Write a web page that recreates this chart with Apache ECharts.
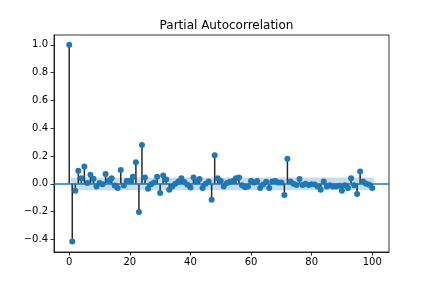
<!DOCTYPE html>
<html>
<head>
<meta charset="utf-8">
<script src="https://cdn.jsdelivr.net/npm/echarts@6/dist/echarts.min.js"></script>
<style>html,body{margin:0;padding:0;background:#fff}#c{width:432px;height:288px}</style>
</head>
<body>
<div id="c"></div>
<script>
const titleText = 'Partial Autocorrelation';
const lags = Array.from({length: 101}, (_, i) => i);
const pacfValues = [
  1.0, -0.415, -0.05, 0.093, 0.04, 0.125, 0.005, 0.065, 0.036, -0.02,
  0.005, -0.003, 0.07, 0.024, 0.04, -0.012, -0.03, 0.10, -0.012, 0.02,
  0.02, 0.05, 0.155, -0.203, 0.28, 0.045, -0.036, -0.003, 0.01, 0.05,
  -0.067, 0.06, 0.03, -0.043, -0.02, 0.0, 0.017, 0.04, 0.012, -0.007,
  -0.026, 0.045, 0.017, 0.035, -0.03, 0.0, 0.017, -0.115, 0.205, 0.04,
  0.02, -0.02, 0.005, 0.015, 0.02, 0.04, 0.045, -0.01, -0.025, -0.02,
  0.02, 0.01, 0.02, -0.03, -0.005, 0.015, -0.03, 0.017, 0.02, 0.01,
  0.01, -0.08, 0.18, 0.017, 0.0, -0.008, 0.034, -0.008, 0.0, -0.008,
  -0.003, -0.005, -0.02, -0.043, 0.017, -0.02, -0.01, -0.02, -0.02, -0.015,
  -0.05, -0.01, -0.03, 0.04, -0.01, -0.074, 0.088, 0.017, 0.0, -0.007,
  -0.03
];
const confBand = [-0.046, 0.046];
const bandRange = [0.5, 100.5];
const xTicks = [0, 20, 40, 60, 80, 100];
const yTicks = [-0.4, -0.2, 0.0, 0.2, 0.4, 0.6, 0.8, 1.0];

const C0 = '#1f77b4';
const points = lags.map((l, i) => [l, pacfValues[i]]);
const fmt = v => (v < 0 ? '\u2212' : '') + Math.abs(v).toFixed(1);
const fmtX = v => String(Math.round(v));

const chart = echarts.init(document.getElementById('c'), null, {renderer: 'canvas'});
chart.setOption({
  animation: false,
  backgroundColor: '#fff',
  title: {
    text: titleText, left: 221.5, top: 15, textAlign: 'center',
    textStyle: {fontFamily: 'DejaVu Sans', fontSize: 12, fontWeight: 'normal', color: '#000'}
  },
  grid: {left: 54, right: 43, top: 35, bottom: 36, show: true, borderColor: '#000', borderWidth: 0.8, backgroundColor: 'transparent'},
  xAxis: {
    type: 'value', min: -5.025, max: 105.525,
    axisLine: {show: true, onZero: false, lineStyle: {color: '#000', width: 0.8}},
    axisTick: {show: true, length: 3.5, customValues: xTicks, lineStyle: {color: '#000', width: 0.8}},
    axisLabel: {customValues: xTicks, formatter: fmtX, margin: 5, fontFamily: 'DejaVu Sans', fontSize: 10, color: '#000'},
    splitLine: {show: false}
  },
  yAxis: {
    type: 'value', min: -0.491, max: 1.071,
    axisLine: {show: true, onZero: false, lineStyle: {color: '#000', width: 0.8}},
    axisTick: {show: true, length: 3.5, customValues: yTicks, lineStyle: {color: '#000', width: 0.8}},
    axisLabel: {customValues: yTicks, formatter: fmt, margin: 6, fontFamily: 'DejaVu Sans', fontSize: 10, color: '#000'},
    splitLine: {show: false}
  },
  series: [
    {
      type: 'custom', z: 1, silent: true,
      data: [[bandRange[0], confBand[0], bandRange[1], confBand[1]]],
      renderItem: (params, api) => {
        const a = api.coord([api.value(0), api.value(3)]);
        const b = api.coord([api.value(2), api.value(1)]);
        return {type: 'rect', shape: {x: a[0], y: a[1], width: b[0] - a[0], height: b[1] - a[1]},
          style: {fill: 'rgba(31,119,180,0.25)'}};
      }
    },
    {
      type: 'custom', z: 2, silent: true,
      data: points,
      renderItem: (params, api) => {
        const p0 = api.coord([api.value(0), 0]);
        const p1 = api.coord([api.value(0), api.value(1)]);
        return {type: 'line', shape: {x1: p0[0], y1: p0[1], x2: p1[0], y2: p1[1]},
          style: {stroke: '#2a2a2a', lineWidth: 1.5}};
      }
    },
    {
      type: 'scatter', z: 3, silent: true,
      data: points, symbol: 'circle', symbolSize: 6,
      itemStyle: {color: C0, opacity: 1},
      markLine: {
        silent: true, symbol: ['none', 'none'], label: {show: false},
        lineStyle: {color: C0, width: 1.5, type: 'solid'},
        data: [{yAxis: 0}]
      }
    }
  ]
});
</script>
</body>
</html>
